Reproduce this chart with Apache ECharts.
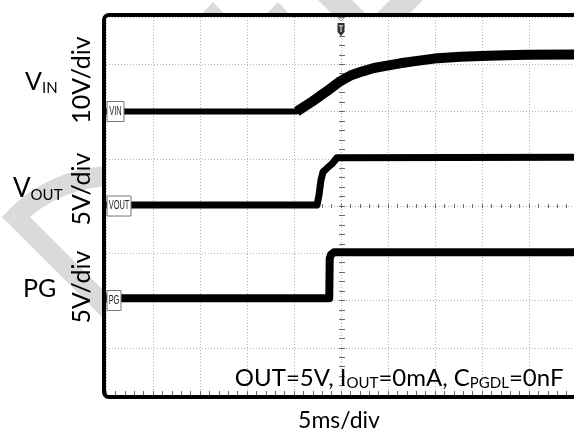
<!DOCTYPE html>
<html>
<head>
<meta charset="utf-8">
<script src="https://cdn.jsdelivr.net/npm/echarts@6/dist/echarts.min.js"></script>
<style>
  html, body { margin: 0; padding: 0; background: #fff; }
  #chart { width: 574px; height: 431px; }
</style>
</head>
<body>
<div id="chart"></div>
<script>
// Horizontal time base: 5 ms/div over 10 divisions, trigger at t = 0
const timeMin = -25;
const timeMax = 25;
const timeDiv = 5;
// Vertical screen: 8 divisions
const screenDivs = 8;

// Channel setup: name, volts per division, ground level (in divisions from bottom)
const channelNames = ['VIN', 'VOUT', 'PG'];
const channelScale = [10, 5, 5];
const channelGround = [6, 4, 2];

// VIN trace: time (ms) and voltage (V)
const vinTime  = [-25, -4.7, -3.0, -1.5, -0.1, 1.0, 2.3, 3.5, 4.9, 6.3, 7.7, 9.9, 12.7, 14.9, 17.5, 19.9, 25];
const vinVolts = [0, 0, 2.2, 4.3, 6.4, 7.6, 8.5, 9.2, 9.7, 10.2, 10.6, 11.2, 11.6, 11.75, 11.9, 12.0, 12.05];

// VOUT trace
const voutTime  = [-25, -2.55, -2.34, -2.13, -1.91, -1.49, -0.96, -0.43, 25];
const voutVolts = [0.1, 0.1, 1.15, 2.75, 3.6, 4.0, 4.45, 5.1, 5.15];

// PG trace
const pgTime  = [-25, -1.25, -1.2, -1.06, -0.75, 25];
const pgVolts = [0.25, 0.25, 4.45, 4.85, 5.1, 5.1];

// Convert a channel's (t, V) samples into screen-division coordinates
function toScreen(times, volts, ch) {
  return times.map((t, i) => [t, channelGround[ch] + volts[i] / channelScale[ch]]);
}

const chart = echarts.init(document.getElementById('chart'), null, { renderer: 'canvas' });

const GRID = { left: 106, top: 17, width: 470, height: 378 };
const FONT = 'Lato';
const WEIGHT = 'normal';
const TICK_COLOR = '#6a6a6a';

function xAxisCfg(extra) {
  return Object.assign({
    type: 'value', min: timeMin, max: timeMax, interval: timeDiv,
    axisLine: { show: false },
    axisLabel: { show: false },
    axisTick: { show: true, inside: true, length: 4, lineStyle: { color: TICK_COLOR, width: 1 } },
    minorTick: { show: true, splitNumber: 5, length: 4, lineStyle: { color: TICK_COLOR, width: 1 } },
    splitLine: { show: false },
    minorSplitLine: { show: false }
  }, extra);
}
function yAxisCfg(extra) {
  return Object.assign({
    type: 'value', min: 0, max: screenDivs, interval: 1,
    axisLine: { show: false },
    axisLabel: { show: false },
    axisTick: { show: true, inside: true, length: 4, lineStyle: { color: TICK_COLOR, width: 1 } },
    minorTick: { show: true, splitNumber: 5, length: 4, lineStyle: { color: TICK_COLOR, width: 1 } },
    splitLine: { show: false },
    minorSplitLine: { show: false }
  }, extra);
}
const gridLine = { show: true, lineStyle: { color: '#b4b4b4', type: [1, 2], width: 1 } };
const centerOffsetX = -GRID.height / 2;
const centerOffsetY = -GRID.width / 2;
const smallTick = (inside) => ({ show: true, inside, length: 2, lineStyle: { color: TICK_COLOR, width: 1 } });
const smallMinor = { show: true, splitNumber: 5, length: 2, lineStyle: { color: TICK_COLOR, width: 1 } };

// Text measuring for runs with subscripts
const measureCtx = document.createElement('canvas').getContext('2d');
function measure(str, size) {
  measureCtx.font = WEIGHT + ' ' + size + 'px ' + FONT;
  return measureCtx.measureText(str).width;
}
const MID = 0.33; // distance from text middle to baseline, in em
function textRun(tokens, x0, baseline, align) {
  const widths = tokens.map(t => measure(t[0], t[1]));
  const total = widths.reduce((a, b) => a + b, 0);
  let x = align === 'right' ? x0 - total : (align === 'center' ? x0 - total / 2 : x0);
  return tokens.map((t, i) => {
    const el = {
      type: 'text', x: x, y: baseline + t[2] - MID * t[1], z: 30,
      style: { text: t[0], fontSize: t[1], fontFamily: FONT, fontWeight: WEIGHT, fill: '#000', align: 'left', verticalAlign: 'middle' }
    };
    x += widths[i];
    return el;
  });
}
function rotatedLabel(str, cx, cy, size) {
  return {
    type: 'text', x: cx, y: cy, rotation: Math.PI / 2, z: 30,
    style: { text: str, fontSize: size, fontFamily: FONT, fontWeight: WEIGHT, fill: '#000', align: 'center', verticalAlign: 'middle' }
  };
}

// Light grey watermark behind the screen area
const WM = '#dadada';
const watermark = [
  { type: 'line', z: -10, shape: { x1: 16, y1: 217, x2: 180, y2: 381 }, style: { stroke: WM, lineWidth: 20 } },
  { type: 'arc', z: -10, shape: { cx: 114, cy: 315, r: 139, startAngle: -Math.PI * 0.75, endAngle: 0, clockwise: true },
    style: { fill: null, stroke: WM, lineWidth: 20 } },
  { type: 'polygon', z: -10, shape: { points: [[16, 217], [8.9, 209.9], [1.9, 217], [8.9, 224.1]] }, style: { fill: WM } },
  { type: 'polygon', z: -10, shape: { points: [[199, 17], [213, 2], [227, 17]] }, style: { fill: WM } },
  { type: 'polygon', z: -10, shape: { points: [[264, 17], [278, 2], [292, 17]] }, style: { fill: WM } },
  { type: 'polygon', z: -10, shape: { points: [[318, 0], [352, 0], [369, 17], [335, 17]] }, style: { fill: WM } },
  { type: 'polygon', z: -10, shape: { points: [[390, 0], [423, 0], [406, 17], [373, 17]] }, style: { fill: WM } }
];

const labels = [].concat(
  textRun([['V', 25, 0], ['IN', 15, 3]], 25, 90, 'left'),
  textRun([['V', 26, 0], ['OUT', 15, 3.5]], 13, 197, 'left'),
  textRun([['PG', 25, 0]], 23, 297, 'left'),
  [rotatedLabel('10V/div', 81.5, 80, 25),
   rotatedLabel('5V/div', 81.5, 189, 25),
   rotatedLabel('5V/div', 81.5, 287, 25)],
  textRun([['5ms/div', 23, 0]], 339, 428, 'center'),
  textRun([['OUT=5V, ', 24, 0], ['I', 24, 0], ['OUT', 15, 2.5], ['=0mA, ', 24, 0],
           ['C', 24, 0], ['PGDL', 15, 2.5], ['=0nF', 24, 0]], 563.5, 386, 'right')
);

const plotBg = { type: 'rect', z: -5, shape: { x: GRID.left, y: GRID.top, width: GRID.width, height: GRID.height },
  style: { fill: '#fff' } };
const frame = { type: 'rect', z: 20, shape: { x: GRID.left - 2, y: GRID.top - 2, width: GRID.width + 10, height: GRID.height + 4, r: 5 },
  style: { fill: null, stroke: '#000', lineWidth: 4 } };

const option = {
  animation: false,
  backgroundColor: '#fff',
  grid: { left: GRID.left, top: GRID.top, width: GRID.width, height: GRID.height, containLabel: false, outerBoundsMode: 'none' },
  xAxis: [
    xAxisCfg({ position: 'bottom', splitLine: gridLine }),
    xAxisCfg({ position: 'top' }),
    xAxisCfg({ position: 'bottom', offset: centerOffsetX, axisTick: smallTick(true), minorTick: smallMinor }),
    xAxisCfg({ position: 'bottom', offset: centerOffsetX, axisTick: smallTick(false), minorTick: smallMinor })
  ],
  yAxis: [
    yAxisCfg({ position: 'left', splitLine: gridLine }),
    yAxisCfg({ position: 'left', offset: centerOffsetY, axisTick: smallTick(true), minorTick: smallMinor }),
    yAxisCfg({ position: 'left', offset: centerOffsetY, axisTick: smallTick(false), minorTick: smallMinor })
  ],
  series: [
    { name: 'VIN', type: 'line', data: toScreen(vinTime, vinVolts, 0), showSymbol: false, symbol: 'none',
      lineStyle: { color: '#000', width: 6, join: 'round' }, z: 5 },
    { name: 'VIN ramp', type: 'line', data: toScreen(vinTime.slice(1), vinVolts.slice(1), 0), showSymbol: false, symbol: 'none',
      lineStyle: { color: '#000', width: 10, join: 'round' }, z: 5 },
    { name: 'VOUT', type: 'line', data: toScreen(voutTime, voutVolts, 1), showSymbol: false, symbol: 'none',
      lineStyle: { color: '#000', width: 7, join: 'round' }, z: 5 },
    { name: 'PG', type: 'line', data: toScreen(pgTime, pgVolts, 2), showSymbol: false, symbol: 'none',
      lineStyle: { color: '#000', width: 8, join: 'round' }, z: 5 }
  ]
};
chart.setOption(option);

// Ground markers for each channel at the left edge, plus the trigger marker
const markerW = [17, 24, 14];
const markers = [];
channelNames.forEach((name, ch) => {
  const p = chart.convertToPixel({ xAxisIndex: 0, yAxisIndex: 0 }, [timeMin, channelGround[ch]]);
  markers.push({
    type: 'group', x: p[0] + 1, y: p[1] - 10,
    children: [
      { type: 'rect', z: 25, shape: { x: 0, y: 0, width: markerW[ch], height: 20 }, style: { fill: '#fff', stroke: '#777', lineWidth: 1 } },
      { type: 'text', z: 26, x: markerW[ch] / 2, y: 10, scaleX: 0.62,
        style: { text: name, fontSize: 12, fontFamily: 'Liberation Sans', fill: '#222', align: 'center', verticalAlign: 'middle' } }
    ]
  });
});
const trig = chart.convertToPixel({ xAxisIndex: 0, yAxisIndex: 0 }, [0, screenDivs]);
markers.push(
  { type: 'polygon', z: 25, shape: { points: [[trig[0] - 3, trig[1] + 1], [trig[0] + 3, trig[1] + 1], [trig[0], trig[1] + 4]] },
    style: { fill: '#fff', stroke: '#999', lineWidth: 1 } },
  { type: 'polygon', z: 25, shape: { points: [[trig[0] - 3.5, trig[1] + 6], [trig[0] + 3.5, trig[1] + 6], [trig[0] + 3.5, trig[1] + 15], [trig[0], trig[1] + 19], [trig[0] - 3.5, trig[1] + 15]] },
    style: { fill: '#333' } },
  { type: 'rect', z: 26, shape: { x: trig[0] - 2, y: trig[1] + 8, width: 4, height: 1.5 }, style: { fill: '#bbb' } },
  { type: 'rect', z: 26, shape: { x: trig[0] - 0.75, y: trig[1] + 8, width: 1.5, height: 7 }, style: { fill: '#bbb' } }
);

chart.setOption({ graphic: { elements: [].concat(watermark, [plotBg, frame], markers, labels) } });
</script>
</body>
</html>
